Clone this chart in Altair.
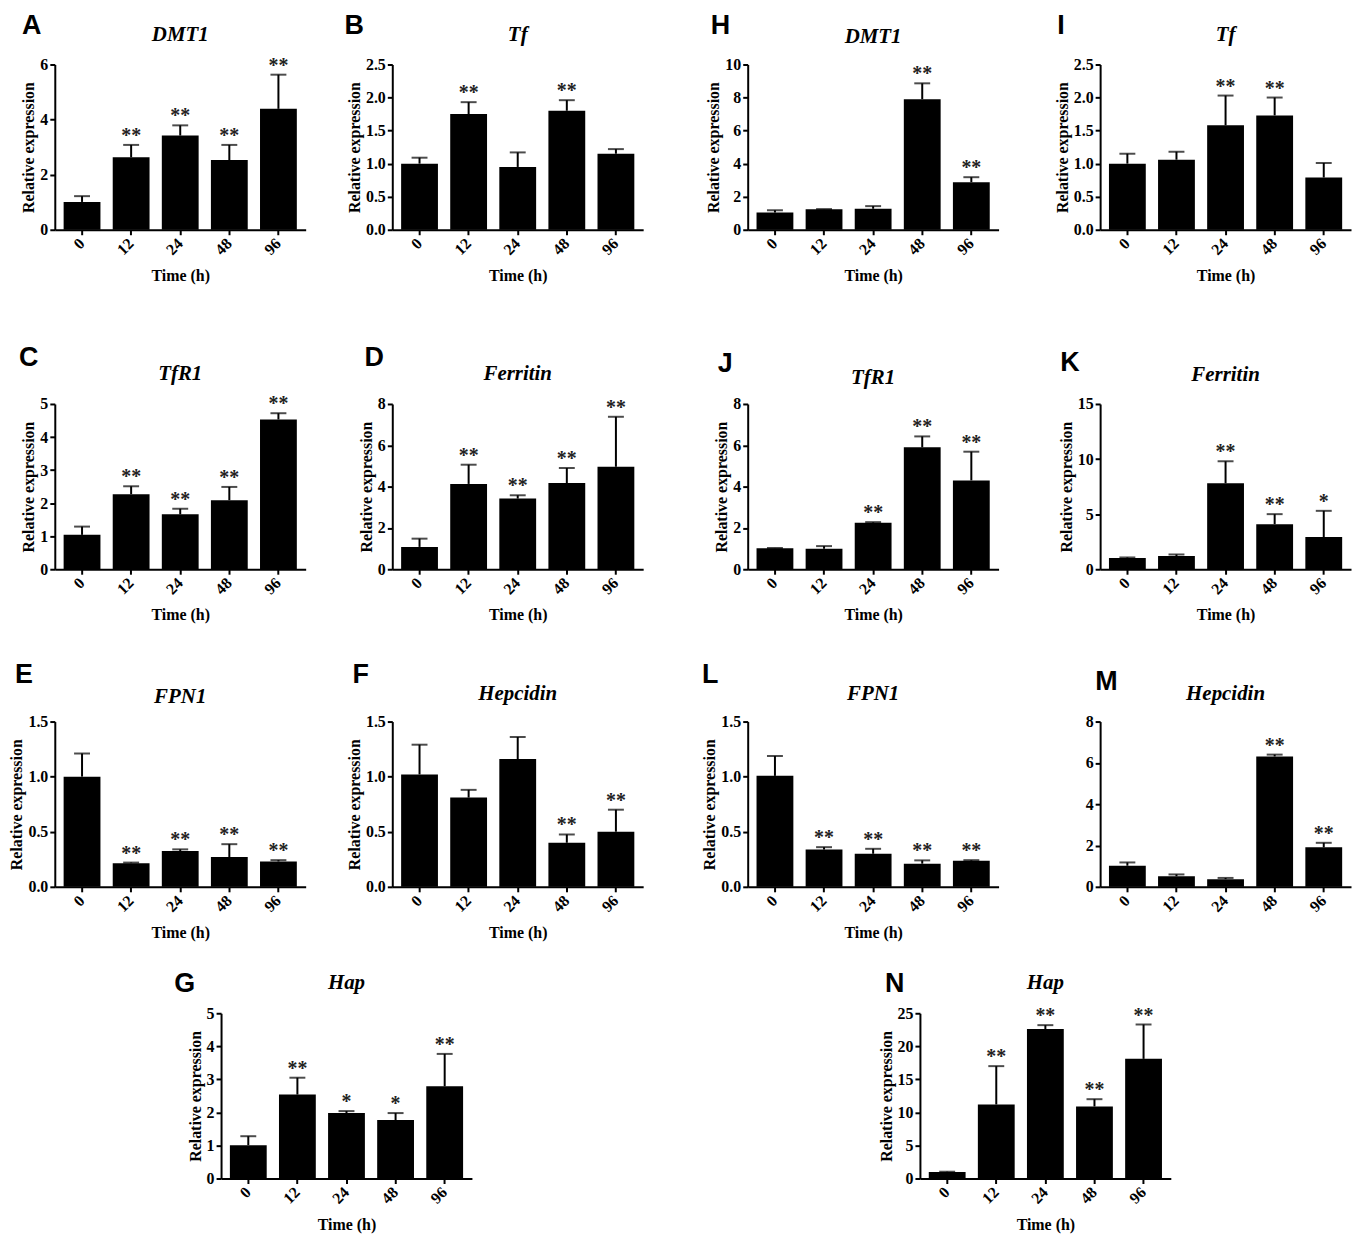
import altair as alt
import pandas as pd

times = ["0", "12", "24", "48", "96"]

# ---- data (mean, SD, significance) ----
A_mean = [1.01, 2.63, 3.42, 2.53, 4.39]; A_err = [0.21, 0.45, 0.37, 0.55, 1.24]; A_sig = ["", "**", "**", "**", "**"]
B_mean = [1.00, 1.75, 0.95, 1.80, 1.15]; B_err = [0.09, 0.18, 0.22, 0.16, 0.07]; B_sig = ["", "**", "", "**", ""]
H_mean = [1.04, 1.24, 1.27, 7.90, 2.88]; H_err = [0.14, 0.01, 0.16, 0.96, 0.30]; H_sig = ["", "", "", "**", "**"]
I_mean = [1.00, 1.06, 1.58, 1.73, 0.79]; I_err = [0.15, 0.12, 0.45, 0.27, 0.22]; I_sig = ["", "", "**", "**", ""]
C_mean = [1.04, 2.27, 1.66, 2.09, 4.53]; C_err = [0.25, 0.24, 0.17, 0.40, 0.19]; C_sig = ["", "**", "**", "**", "**"]
D_mean = [1.08, 4.13, 3.42, 4.17, 4.96]; D_err = [0.40, 0.93, 0.16, 0.73, 2.42]; D_sig = ["", "**", "**", "**", "**"]
J_mean = [1.02, 0.99, 2.25, 5.90, 4.30]; J_err = [0.01, 0.13, 0.03, 0.53, 1.39]; J_sig = ["", "", "**", "**", "**"]
K_mean = [1.01, 1.19, 7.80, 4.09, 2.92]; K_err = [0.06, 0.15, 2.00, 0.91, 2.38]; K_sig = ["", "", "**", "**", "*"]
E_mean = [1.00, 0.215, 0.325, 0.27, 0.23]; E_err = [0.21, 0.005, 0.015, 0.117, 0.012]; E_sig = ["", "**", "**", "**", "**"]
F_mean = [1.02, 0.81, 1.16, 0.40, 0.50]; F_err = [0.27, 0.07, 0.20, 0.075, 0.20]; F_sig = ["", "", "", "**", "**"]
L_mean = [1.007, 0.338, 0.30, 0.21, 0.236]; L_err = [0.18, 0.022, 0.045, 0.03, 0.006]; L_sig = ["", "**", "**", "**", "**"]
M_mean = [1.02, 0.51, 0.37, 6.31, 1.91]; M_err = [0.16, 0.09, 0.06, 0.09, 0.22]; M_sig = ["", "", "", "**", "**"]
G_mean = [1.01, 2.54, 1.98, 1.77, 2.79]; G_err = [0.27, 0.51, 0.06, 0.21, 0.98]; G_sig = ["", "**", "*", "*", "**"]
N_mean = [0.98, 11.2, 22.6, 10.9, 18.1]; N_err = [0.05, 5.8, 0.6, 1.1, 5.2]; N_sig = ["", "**", "**", "**", "**"]

W = 252
H = 166
SERIF = "Liberation Serif"
SANS = "Liberation Sans"


def anchor(data, x, y):
    return alt.Chart(data).mark_text(text=".", fontSize=1, opacity=0,
                                     align="left", baseline="top").encode(
        x=alt.value(x), y=alt.value(y))


def panel(letter, gene, mean, err, sig, ticks, fmt, L, R, T, B, lx, ly,
          gy=-28, titles=True):
    df = pd.DataFrame({"t": times, "mean": mean, "err": err, "sig": sig})
    df["top"] = df["mean"] + df["err"]
    lab = pd.DataFrame({"letter": [letter], "gene": [gene]})

    xs = alt.Scale(domain=times, paddingInner=0.25, paddingOuter=0.18)
    ys = alt.Scale(domain=[0, ticks[-1]], nice=False)
    xax = alt.Axis(title="Time (h)" if titles else "", labelAngle=315,
                   labelAlign="right", labelBaseline="middle",
                   labelPadding=6, titlePadding=10,
                   labelFont=SERIF, labelFontSize=16, labelFontWeight="bold",
                   titleFont=SERIF, titleFontSize=16, titleFontWeight="bold")
    yax = alt.Axis(title="Relative expression" if titles else "",
                   values=ticks, format=fmt, labelPadding=2, titlePadding=3,
                   labelFont=SERIF, labelFontSize=16, labelFontWeight="bold",
                   titleFont=SERIF, titleFontSize=16, titleFontWeight="bold")

    base = alt.Chart(df)
    X = alt.X("t:N", scale=xs, axis=xax)
    bars = base.mark_bar(color="black").encode(
        x=X, y=alt.Y("mean:Q", scale=ys, axis=yax))
    stem = base.mark_rule(color="black", strokeWidth=2).encode(
        x=X, y=alt.Y("mean:Q", scale=ys, axis=yax), y2="top:Q")
    cap = base.mark_tick(color="black", thickness=2, size=16).encode(
        x=X, y=alt.Y("top:Q", scale=ys, axis=yax))
    stars = base.mark_text(font=SERIF, fontSize=20, fontWeight="bold",
                           color="#222222", baseline="alphabetic", dy=-3).encode(
        x=X, y=alt.Y("top:Q", scale=ys, axis=yax), text="sig:N")
    lab_base = alt.Chart(lab)
    letter_mark = lab_base.mark_text(font=SANS, fontSize=27, fontWeight="bold",
                                     color="black", align="left",
                                     baseline="alphabetic").encode(
        text="letter:N", x=alt.value(lx), y=alt.value(ly))
    gene_mark = lab_base.mark_text(font=SERIF, fontSize=21, fontWeight="bold",
                                   fontStyle="italic", color="black",
                                   align="center", baseline="middle").encode(
        text="gene:N", x=alt.value(W / 2), y=alt.value(gy))

    return alt.layer(bars, stem, cap, stars, letter_mark, gene_mark,
                     anchor(lab, -L, -T), anchor(lab, W + R, H + B)
                     ).properties(width=W, height=H)


t6 = [0, 2, 4, 6]
t25 = [0, 0.5, 1.0, 1.5, 2.0, 2.5]
t10 = [0, 2, 4, 6, 8, 10]
t5 = [0, 1, 2, 3, 4, 5]
t8 = [0, 2, 4, 6, 8]
t15 = [0, 5, 10, 15]
t15b = [0, 0.5, 1.0, 1.5]
t25b = [0, 5, 10, 15, 20, 25]

Ls = [40, 55, 55, 55]
Rs = [30, 48, 45, 0]
Ts = [52, 60, 60, 44]
Bs = [112, 89, 80, 50]

row1 = alt.hconcat(
    panel("A", "DMT1", A_mean, A_err, A_sig, t6, "d", Ls[0], Rs[0], Ts[0], Bs[0], -33, -31, gy=-30),
    panel("B", "Tf", B_mean, B_err, B_sig, t25, ".1f", Ls[1], Rs[1], Ts[0], Bs[0], -48, -31, gy=-30),
    panel("H", "DMT1", H_mean, H_err, H_sig, t10, "d", Ls[2], Rs[2], Ts[0], Bs[0], -37, -31),
    panel("I", "Tf", I_mean, I_err, I_sig, t25, ".1f", Ls[3], Rs[3], Ts[0], Bs[0], -43, -31, gy=-30),
    spacing=0,
)
row2 = alt.hconcat(
    panel("C", "TfR1", C_mean, C_err, C_sig, t5, "d", Ls[0], Rs[0], Ts[1], Bs[1], -36, -38, gy=-30),
    panel("D", "Ferritin", D_mean, D_err, D_sig, t8, "d", Ls[1], Rs[1], Ts[1], Bs[1], -28, -38, gy=-30),
    panel("J", "TfR1", J_mean, J_err, J_sig, t8, "d", Ls[2], Rs[2], Ts[1], Bs[1], -30, -32, gy=-26),
    panel("K", "Ferritin", K_mean, K_err, K_sig, t15, "d", Ls[3], Rs[3], Ts[1], Bs[1], -40, -33, gy=-29),
    spacing=0,
)
row3 = alt.hconcat(
    panel("E", "FPN1", E_mean, E_err, E_sig, t15b, ".1f", Ls[0], Rs[0], Ts[2], Bs[2], -40, -39, gy=-25),
    panel("F", "Hepcidin", F_mean, F_err, F_sig, t15b, ".1f", Ls[1], Rs[1], Ts[2], Bs[2], -40, -39),
    panel("L", "FPN1", L_mean, L_err, L_sig, t15b, ".1f", Ls[2], Rs[2], Ts[2], Bs[2], -46, -39),
    panel("M", "Hepcidin", M_mean, M_err, M_sig, t8, "d", Ls[3], Rs[3], Ts[2], Bs[2], -5, -32, titles=False),
    spacing=0,
)

SPACER_W = 110
sp = pd.DataFrame({"s": [0]})
spacer = alt.layer(anchor(sp, 0, 0), anchor(sp, SPACER_W, 0)).properties(
    width=SPACER_W, height=H)
row4 = alt.hconcat(
    spacer,
    panel("G", "Hap", G_mean, G_err, G_sig, t5, "d", 55, 393, Ts[3], Bs[3], -47, -21, gy=-30),
    panel("N", "Hap", N_mean, N_err, N_sig, t25b, "d", 55, 0, Ts[3], Bs[3], -35, -21, gy=-30),
    spacing=0,
)

chart = alt.vconcat(row1, row2, row3, row4, spacing=0).properties(
    padding=0
).configure_view(stroke="transparent").configure_axis(
    domainColor="black", domainWidth=2, tickColor="black", tickWidth=2,
    tickSize=5, labelColor="black", titleColor="black", grid=False,
)

chart.save("out.html", embed_options={"renderer": "svg", "actions": False})
